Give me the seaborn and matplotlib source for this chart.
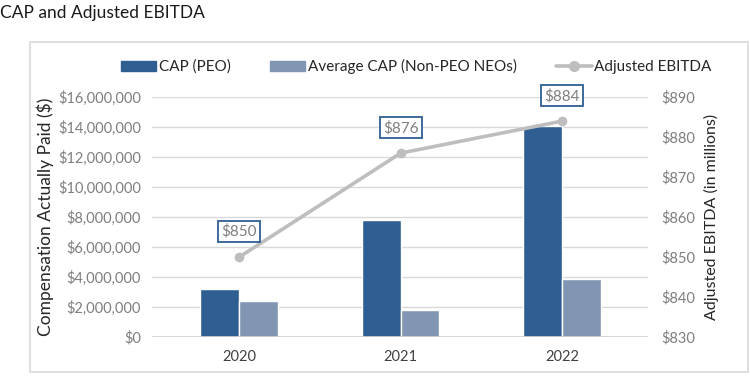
import matplotlib
matplotlib.use("Agg")
import matplotlib.pyplot as plt
from matplotlib.patches import Rectangle
from matplotlib.lines import Line2D
from matplotlib.ticker import FuncFormatter
import seaborn as sns
import pandas as pd
import numpy as np

# data
years = ["2020", "2021", "2022"]
cap_peo = [3200000, 7800000, 14050000]
cap_neo = [2400000, 1800000, 3870000]
ebitda = [850, 876, 884]

series_names = ["CAP (PEO)", "Average CAP (Non-PEO NEOs)"]
colors = ["#2F5E93", "#8196B3"]
line_color = "#BEBEBE"
box_edge = "#2F5E93"
text_grey = "#7F7F7F"

df = pd.DataFrame({
    "Year": years * 2,
    "Value": cap_peo + cap_neo,
    "Series": [series_names[0]] * 3 + [series_names[1]] * 3,
})

sns.set_style("white")
plt.rcParams["font.family"] = ["Lato", "DejaVu Sans"]

fig = plt.figure(figsize=(7.5, 3.76), dpi=100)
ax = fig.add_axes([0.2027, 0.1037, 0.661, 0.638])

sns.barplot(data=df, x="Year", y="Value", hue="Series", palette=colors,
            width=0.48, saturation=1, ax=ax, legend=False)

ax.set_xlim(-0.54, 2.53)
ax.set_ylim(0, 16000000)
ax.set_yticks(np.arange(0, 16000001, 2000000))
ax.yaxis.set_major_formatter(FuncFormatter(lambda v, p: f"${v:,.0f}"))
ax.grid(axis="y", color="#D9D9D9", linewidth=1)
ax.set_axisbelow(True)
for s in ax.spines.values():
    s.set_visible(False)
ax.axhline(0, color="#D0D0D0", linewidth=1.2, zorder=1)
ax.tick_params(axis="y", length=0, labelsize=10.5, colors=text_grey, pad=8)
ax.tick_params(axis="x", length=0, labelsize=10.5, colors="#404040", pad=9)
ax.set_xlabel("")
ax.set_ylabel("Compensation Actually Paid ($)", fontsize=12.5, color="#262626", labelpad=3)

ax2 = ax.twinx()
sns.lineplot(x=np.arange(len(years)), y=ebitda, ax=ax2, color=line_color,
             linewidth=2.6, marker="o", markersize=7, markeredgewidth=0)
ax2.set_ylim(830, 890)
ax2.set_yticks(np.arange(830, 891, 10))
ax2.yaxis.set_major_formatter(FuncFormatter(lambda v, p: f"${v:.0f}"))
for s in ax2.spines.values():
    s.set_visible(False)
ax2.tick_params(axis="y", length=0, labelsize=10.5, colors=text_grey, pad=10)
ax2.set_ylabel("Adjusted EBITDA (in millions)", fontsize=11.5, color="#262626", labelpad=6)

for i, v in enumerate(ebitda):
    ax2.annotate(f"${v}", (i, v), xytext=(0, 13), textcoords="offset points",
                 ha="center", va="bottom", fontsize=11, color=text_grey,
                 bbox=dict(boxstyle="square,pad=0.2", fc="white", ec=box_edge, lw=1.3))

handles = [
    Rectangle((0, 0), 1, 1, color=colors[0]),
    Rectangle((0, 0), 1, 1, color=colors[1]),
    Line2D([0], [0], color=line_color, linewidth=2.6, marker="o", markersize=7),
]
fig.legend(handles, series_names + ["Adjusted EBITDA"], loc="center",
           bbox_to_anchor=(0.555, 0.823), ncol=3, frameon=False, fontsize=11,
           handlelength=2.3, handleheight=0.6, handletextpad=0.15, columnspacing=2.6,
           labelcolor="#262626")

fig.patches.append(Rectangle((0.04, 0.0106), 0.957, 0.877, transform=fig.transFigure,
                             fill=False, ec="#D9D9D9", lw=1.2))
fig.text(0.0, 0.965, "CAP and Adjusted EBITDA", fontsize=12.5, color="#1A1A1A",
         ha="left", va="center")

fig.savefig("out.png", dpi=100)
